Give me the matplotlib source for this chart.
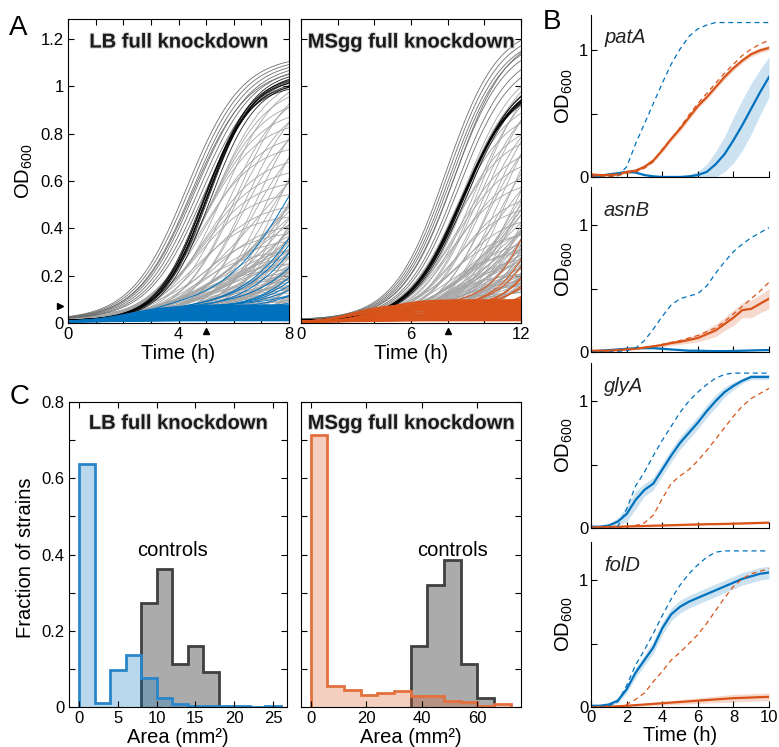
"""Knockdown growth curves (LB vs MSgg) and colony-area histograms."""

import matplotlib

matplotlib.use("Agg")
import matplotlib.patheffects as pe
import matplotlib.pyplot as plt
import numpy as np

plt.rcParams["font.family"] = ["Liberation Sans", "DejaVu Sans"]
plt.rcParams["mathtext.fontset"] = "custom"
plt.rcParams["mathtext.rm"] = "Liberation Sans"
plt.rcParams["mathtext.it"] = "Liberation Sans:italic"

BLUE = "#0072BD"
ORANGE = "#D95319"

# ---- Panel A: growth-curve parameters (plateau OD, midpoint h)
LB_CTRL_K = [1.02, 1.03, 1.04, 1.01, 1.05, 1.03, 1.00, 1.04, 1.06, 1.02]
LB_CTRL_TM = [5.0, 4.95, 5.05, 4.9, 5.1, 5.0, 4.85, 4.95, 5.05, 5.15]

# strains growing faster than the controls (darker lines)
LB_TOP_K = [1.12, 1.11, 1.10, 1.09, 1.08, 1.07, 1.06, 1.05]
LB_TOP_TM = [4.3, 4.4, 4.5, 4.6, 4.7, 4.5, 4.8, 4.9]
# fast-growing knockdowns (rate 1.0 / h)
LB_GRAY_K = [1.05, 1.0, 0.95, 1.05, 0.9, 1.0, 0.85, 1.05, 0.8, 0.95, 0.75, 1.0,
             0.7, 0.9, 0.65, 1.0, 0.6, 0.85, 0.55, 1.0, 0.5, 0.8, 0.45, 1.0,
             0.42, 0.7, 0.38, 1.0, 0.35, 0.6, 0.32, 0.9, 0.3, 0.55, 0.28, 1.0,
             0.25, 0.5, 0.22, 0.8, 0.2, 0.45, 0.18, 0.7, 0.16, 0.4, 0.14, 1.0,
             0.12, 0.35, 0.1, 0.6, 0.09, 0.3, 0.08, 0.8, 0.25, 0.5, 0.2, 0.9]
LB_GRAY_TM = [5.3, 5.2, 5.1, 5.6, 5.0, 5.8, 4.9, 6.1, 5.0, 6.0, 4.8, 6.4,
              5.0, 6.3, 4.9, 6.8, 4.8, 6.6, 4.7, 7.2, 4.9, 7.0, 4.6, 7.6,
              5.2, 7.2, 4.8, 8.0, 5.0, 7.4, 5.5, 8.2, 4.6, 7.6, 5.2, 8.6,
              5.0, 7.9, 4.5, 8.6, 5.3, 8.0, 4.8, 8.8, 5.6, 8.2, 4.6, 9.4,
              5.0, 8.5, 4.4, 9.2, 5.5, 8.8, 4.7, 9.6, 8.6, 9.4, 8.4, 10.0]
# slow-growing knockdowns (rate 0.6 / h)
LB_SLOW_K = [0.9, 0.8, 0.7, 0.6, 0.5, 0.45, 0.4, 0.35, 0.3, 0.28, 0.25, 0.22, 0.2,
             0.18, 0.15, 0.12, 0.6, 0.5, 0.4, 0.3, 1.0, 0.9, 0.8, 0.7, 1.0, 0.6,
             0.5, 0.4, 0.35, 0.3, 1.0, 0.8, 0.7, 0.25, 0.2, 0.55, 0.65, 0.75, 0.85, 0.95]
LB_SLOW_TM = [7.0, 7.5, 7.2, 6.8, 6.5, 7.0, 6.2, 6.0, 5.8, 6.5, 5.5, 6.0, 5.2,
              5.8, 5.0, 5.5, 8.0, 7.8, 7.5, 7.2, 8.5, 8.8, 8.2, 8.6, 9.5, 9.0,
              8.6, 8.4, 8.0, 8.5, 10.0, 9.8, 9.3, 7.0, 6.8, 7.3, 7.8, 8.0, 7.6, 7.9]

LB_KD_K = [0.070, 0.068, 0.066, 0.064, 0.062, 0.060, 0.058, 0.056, 0.054,
           0.052, 0.050, 0.048, 0.046, 0.044, 0.042, 0.040, 0.038, 0.036,
           0.034, 0.032, 0.030, 0.028, 0.026, 0.024, 0.022, 0.020, 0.018,
           0.016, 0.014, 0.012, 0.010, 0.008, 0.006, 0.004]
LB_KD_TM = [2.6, 3.0, 2.2, 3.4, 2.8, 2.4, 3.2, 2.0, 2.7, 3.6, 2.3, 2.9,
            3.1, 2.5, 1.9, 3.3, 2.6, 2.1, 3.5, 2.8, 2.4, 3.0, 2.2, 2.7,
            3.2, 1.8, 2.5, 2.9, 2.3, 3.1, 2.0, 2.6, 2.4, 2.8]
LB_RISE_K1 = [0.06, 0.05, 0.055, 0.045, 0.06, 0.04, 0.05, 0.055, 0.06, 0.05, 0.065, 0.045]
LB_RISE_TM = [8.15, 9.05, 9.25, 9.4, 10.0, 10.2, 10.5, 10.8, 11.2, 11.5, 11.8, 12.2]

MS_CTRL_K = [1.03, 1.02, 1.05, 1.01, 1.04, 1.03, 1.00, 1.06, 1.02, 1.04]
MS_CTRL_TM = [8.8, 8.75, 8.85, 8.7, 8.9, 8.8, 8.65, 8.95, 8.8, 9.0]

MS_TOP_K = [1.25, 1.23, 1.21, 1.2, 1.18, 1.22, 1.15, 1.12]
MS_TOP_TM = [7.9, 8.0, 8.1, 8.2, 8.3, 8.4, 8.5, 8.6]
MS_GRAY_K = [1.1, 1.05, 1.0, 1.1, 0.95, 1.05, 0.9, 1.1, 0.85, 1.0, 0.8, 1.05,
             0.75, 0.95, 0.7, 1.0, 0.65, 0.9, 0.6, 1.0, 0.55, 0.85, 0.5, 1.0,
             0.45, 0.75, 0.4, 0.9, 0.38, 0.7, 0.35, 1.0, 0.32, 0.6, 0.3, 0.9,
             0.28, 0.55, 0.25, 0.8, 0.22, 0.5, 0.2, 1.0, 0.18, 0.45, 0.15, 0.7,
             0.13, 0.4, 0.12, 0.9, 0.35, 0.6, 0.3, 0.8]
MS_GRAY_TM = [8.9, 8.8, 8.6, 9.2, 8.5, 9.4, 8.4, 9.7, 8.5, 9.6, 8.3, 10.0,
              8.5, 9.9, 8.4, 10.4, 8.5, 10.2, 8.2, 10.8, 8.6, 10.6, 8.3, 11.2,
              8.5, 10.9, 8.8, 11.4, 8.0, 11.0, 8.6, 12.0, 8.4, 11.3, 7.8, 12.3,
              8.6, 11.6, 8.2, 12.4, 9.0, 11.8, 7.6, 13.2, 8.4, 12.0, 7.5, 13.0,
              8.8, 12.3, 7.2, 13.8, 12.5, 13.4, 12.2, 14.0]
MS_SLOW_K = [0.9, 0.8, 0.7, 0.6, 0.5, 0.45, 0.4, 0.35, 0.3, 0.28, 0.25, 0.22, 0.2,
             0.18, 0.15, 0.12, 0.6, 0.5, 0.4, 0.3, 1.0, 0.9, 0.8, 0.7, 1.0, 0.6,
             0.5, 0.4, 0.35, 0.3, 1.0, 0.8, 0.7, 0.25, 0.2, 0.55, 0.65, 0.75, 0.85, 0.95]
MS_SLOW_TM = [11.0, 11.5, 11.2, 10.8, 10.5, 11.0, 10.2, 10.0, 9.8, 10.5, 9.5, 10.0,
              9.2, 9.8, 9.0, 9.5, 12.0, 11.8, 11.5, 11.2, 12.5, 12.8, 12.2, 12.6,
              13.5, 13.0, 12.6, 12.4, 12.0, 12.5, 14.0, 13.8, 13.3, 11.0, 10.8,
              11.3, 11.8, 12.0, 11.6, 11.9]

MS_KD_K = [0.092, 0.088, 0.085, 0.082, 0.079, 0.076, 0.073, 0.070, 0.067,
           0.064, 0.061, 0.058, 0.055, 0.052, 0.049, 0.046, 0.043, 0.040,
           0.037, 0.034, 0.031, 0.028, 0.025, 0.022, 0.019, 0.016, 0.013,
           0.010, 0.007, 0.004]
MS_KD_TM = [4.4, 4.8, 4.0, 5.2, 4.6, 4.2, 5.0, 3.8, 4.5, 5.4, 4.1, 4.7,
            4.9, 4.3, 3.7, 5.1, 4.4, 3.9, 5.3, 4.6, 4.2, 4.8, 4.0, 4.5,
            5.0, 3.6, 4.3, 4.7, 4.1, 4.9]
MS_RISE_K1 = [0.07, 0.06, 0.065, 0.05, 0.06, 0.055, 0.07, 0.05, 0.06, 0.065]
MS_RISE_TM = [13.2, 13.7, 14.0, 14.3, 14.5, 14.8, 15.2, 15.5, 15.9, 16.3]

# ---- Panel B: mean OD600 over time for four knockdowns
T_B = np.arange(0, 10.01, 0.5)

PATA_LB_KD = [0.01, 0.01, 0.02, 0.03, 0.04, 0.035, 0.015, 0.005, 0, 0, 0, 0.005, 0.015,
              0.04, 0.1, 0.18, 0.29, 0.41, 0.54, 0.67, 0.79]
PATA_LB_ERR = [0, 0, 0, 0, 0, 0, 0, 0, 0, 0, 0, 0.01, 0.03, 0.06, 0.1, 0.14, 0.18,
               0.2, 0.2, 0.18, 0.16]
PATA_LB_REF = [0, 0, 0, 0.01, 0.08, 0.26, 0.42, 0.58, 0.74, 0.89, 1.01, 1.11, 1.17,
               1.20, 1.22, 1.22, 1.22, 1.22, 1.22, 1.22, 1.22]
PATA_MS_KD = [0.02, 0.015, 0.015, 0.02, 0.04, 0.05, 0.08, 0.13, 0.21, 0.30, 0.38, 0.47,
              0.56, 0.63, 0.71, 0.79, 0.86, 0.92, 0.97, 1.0, 1.02]
PATA_MS_ERR = [0.01, 0.01, 0.01, 0.01, 0.01, 0.01, 0.015, 0.015, 0.015, 0.02, 0.02, 0.02,
               0.02, 0.02, 0.02, 0.02, 0.02, 0.02, 0.02, 0.02, 0.02]
PATA_MS_REF = [0, 0, 0, 0.01, 0.03, 0.04, 0.07, 0.12, 0.22, 0.3, 0.39, 0.49, 0.58, 0.66,
               0.74, 0.82, 0.89, 0.96, 1.01, 1.05, 1.08]

ASNB_LB_KD = [0.005, 0.01, 0.015, 0.02, 0.025, 0.03, 0.03, 0.03, 0.025, 0.02, 0.015,
              0.01, 0.01, 0.008, 0.007, 0.007, 0.008, 0.01, 0.012, 0.014, 0.015]
ASNB_LB_ERR = [0.003] * 21
ASNB_LB_REF = [0, 0, 0, 0.005, 0.01, 0.03, 0.09, 0.18, 0.28, 0.37, 0.42, 0.44, 0.46,
               0.52, 0.62, 0.71, 0.79, 0.85, 0.9, 0.94, 0.98]
ASNB_MS_KD = [0.01, 0.01, 0.01, 0.015, 0.02, 0.025, 0.035, 0.045, 0.055, 0.07, 0.08,
              0.095, 0.11, 0.14, 0.17, 0.22, 0.27, 0.33, 0.34, 0.38, 0.42]
ASNB_MS_ERR = [0, 0, 0, 0, 0.005, 0.005, 0.01, 0.01, 0.015, 0.02, 0.02, 0.025, 0.03,
               0.04, 0.05, 0.05, 0.06, 0.06, 0.07, 0.07, 0.08]
ASNB_MS_REF = [0.01, 0.01, 0.01, 0.015, 0.02, 0.025, 0.035, 0.045, 0.06, 0.075, 0.09,
               0.11, 0.13, 0.16, 0.19, 0.24, 0.3, 0.36, 0.42, 0.48, 0.55]

GLYA_LB_KD = [0.01, 0.01, 0.02, 0.05, 0.11, 0.22, 0.3, 0.35, 0.46, 0.57, 0.67, 0.75,
              0.83, 0.92, 1.0, 1.07, 1.12, 1.16, 1.19, 1.19, 1.19]
GLYA_LB_ERR = [0, 0, 0.01, 0.03, 0.06, 0.07, 0.05, 0.05, 0.05, 0.05, 0.05, 0.05, 0.05,
               0.05, 0.05, 0.04, 0.03, 0.02, 0.02, 0.02, 0.02]
GLYA_LB_REF = [0, 0, 0, 0.01, 0.15, 0.33, 0.44, 0.57, 0.69, 0.8, 0.91, 1.0, 1.07, 1.13,
               1.18, 1.21, 1.22, 1.22, 1.22, 1.22, 1.22]
GLYA_MS_KD = [0.005, 0.005, 0.008, 0.01, 0.012, 0.014, 0.016, 0.018, 0.02, 0.022, 0.024,
              0.026, 0.028, 0.03, 0.031, 0.032, 0.034, 0.036, 0.038, 0.04, 0.042]
GLYA_MS_ERR = [0.008] * 21
GLYA_MS_REF = [0, 0, 0, 0.005, 0.01, 0.02, 0.04, 0.1, 0.23, 0.35, 0.41, 0.46, 0.53,
               0.61, 0.7, 0.79, 0.88, 0.96, 1.02, 1.06, 1.1]

FOLD_LB_KD = [0.01, 0.01, 0.02, 0.05, 0.14, 0.27, 0.37, 0.47, 0.62, 0.73, 0.79, 0.83,
              0.86, 0.89, 0.92, 0.95, 0.98, 1.01, 1.03, 1.05, 1.06]
FOLD_LB_ERR = [0, 0, 0.01, 0.02, 0.03, 0.04, 0.04, 0.05, 0.05, 0.05, 0.05, 0.05, 0.05,
               0.05, 0.05, 0.05, 0.05, 0.05, 0.05, 0.05, 0.05]
FOLD_LB_REF = [0, 0, 0.01, 0.04, 0.17, 0.33, 0.45, 0.58, 0.72, 0.85, 0.96, 1.05, 1.12,
               1.18, 1.22, 1.23, 1.23, 1.23, 1.23, 1.23, 1.23]
FOLD_MS_KD = [0.0, 0.0, 0.003, 0.006, 0.01, 0.015, 0.02, 0.025, 0.03, 0.035, 0.04, 0.045,
              0.05, 0.055, 0.06, 0.065, 0.07, 0.072, 0.075, 0.078, 0.08]
FOLD_MS_ERR = [0, 0, 0, 0.002, 0.005, 0.008, 0.01, 0.012, 0.014, 0.016, 0.018, 0.02,
               0.022, 0.024, 0.026, 0.028, 0.03, 0.03, 0.03, 0.03, 0.03]
FOLD_MS_REF = [0, 0, 0, 0.005, 0.02, 0.06, 0.11, 0.2, 0.28, 0.37, 0.43, 0.5, 0.57, 0.66,
               0.76, 0.86, 0.95, 1.01, 1.05, 1.07, 1.09]

GENES = [
    ("patA", PATA_LB_KD, PATA_LB_ERR, PATA_LB_REF, PATA_MS_KD, PATA_MS_ERR, PATA_MS_REF),
    ("asnB", ASNB_LB_KD, ASNB_LB_ERR, ASNB_LB_REF, ASNB_MS_KD, ASNB_MS_ERR, ASNB_MS_REF),
    ("glyA", GLYA_LB_KD, GLYA_LB_ERR, GLYA_LB_REF, GLYA_MS_KD, GLYA_MS_ERR, GLYA_MS_REF),
    ("folD", FOLD_LB_KD, FOLD_LB_ERR, FOLD_LB_REF, FOLD_MS_KD, FOLD_MS_ERR, FOLD_MS_REF),
]

# ---- Panel C: colony area histograms (fraction of strains)
LB_KD_EDGES = [0, 2, 4, 6, 8, 10, 12, 14, 16, 18, 20, 22, 24, 26]
LB_KD_FRAC = [0.638, 0.010, 0.096, 0.137, 0.076, 0.024, 0.008, 0.002, 0.004, 0.004,
              0.002, 0.0, 0.004]
LB_CTRL_EDGES = [8, 10, 12, 14, 16, 18]
LB_CTRL_FRAC = [0.273, 0.363, 0.114, 0.161, 0.091]
MS_KD_EDGES = [0, 6, 12, 18, 24, 30, 36, 42, 48, 54, 60, 66, 72]
MS_KD_FRAC = [0.713, 0.054, 0.044, 0.031, 0.038, 0.041, 0.028, 0.028, 0.017, 0.012,
              0.002, 0.008]
MS_CTRL_EDGES = [36, 42, 48, 54, 60, 66]
MS_CTRL_FRAC = [0.161, 0.319, 0.386, 0.114, 0.025]

TICK_FS = 12
LABEL_FS = 14.5
TITLE_FS = 14.5
GRAY = "#a5a5a5"


def logistic(t, k, tm, rate):
    return k / (1 + np.exp(-rate * (t - tm)))


def style_box(ax):
    for s in ax.spines.values():
        s.set_linewidth(0.8)
    ax.tick_params(direction="in", top=True, right=True, length=4, width=0.8,
                   labelsize=TICK_FS, pad=3)


def add_title(ax, text, y):
    ax.text(0.5, y, text, transform=ax.transAxes, ha="center", va="center",
            fontsize=TITLE_FS, fontweight="bold", color="#1a1a1a",
            path_effects=[pe.withStroke(linewidth=1.5, foreground="#d8d8d8")])


def draw_curves(ax, t, top, gray, slow, ctrl, kd, rise, color):
    """Each group is (plateau list, midpoint list, rate)."""
    for k, tm in zip(slow[0], slow[1]):
        ax.plot(t, 0.012 + logistic(t, k, tm, slow[2]), color=GRAY, lw=0.6)
    for k, tm in zip(gray[0], gray[1]):
        ax.plot(t, 0.012 + logistic(t, k, tm, gray[2]), color=GRAY, lw=0.6)
    for k, tm in zip(top[0], top[1]):
        ax.plot(t, 0.012 + logistic(t, k, tm, top[2]), color="#6e6e6e", lw=0.6)
    for k, tm in zip(ctrl[0], ctrl[1]):
        ax.plot(t, 0.01 + logistic(t, k, tm, ctrl[2]), color="k", lw=0.6, alpha=0.85)
    for k, tm in zip(kd[0], kd[1]):
        ax.plot(t, 0.006 + logistic(t, k, tm, kd[2]), color=color, lw=1.0)
    for k1, tm in zip(rise[0], rise[1]):
        ax.plot(t, 0.006 + logistic(t, k1, 2.8, kd[2]) + logistic(t, 1.0, tm, rise[2]),
                color=color, lw=0.7)


fig = plt.figure(figsize=(7.79, 7.47), dpi=100)

# ---------------- Panel A ----------------
ax_a1 = fig.add_axes([0.0873, 0.5676, 0.2837, 0.407])
ax_a2 = fig.add_axes([0.3864, 0.5676, 0.2824, 0.407])

t_lb = np.linspace(0, 8, 200)
draw_curves(ax_a1, t_lb, (LB_TOP_K, LB_TOP_TM, 1.0), (LB_GRAY_K, LB_GRAY_TM, 1.0),
            (LB_SLOW_K, LB_SLOW_TM, 0.6), (LB_CTRL_K, LB_CTRL_TM, 1.2),
            (LB_KD_K, LB_KD_TM, 1.5), (LB_RISE_K1, LB_RISE_TM, 0.8), BLUE)
t_ms = np.linspace(0, 12, 240)
draw_curves(ax_a2, t_ms, (MS_TOP_K, MS_TOP_TM, 0.7), (MS_GRAY_K, MS_GRAY_TM, 0.7),
            (MS_SLOW_K, MS_SLOW_TM, 0.45), (MS_CTRL_K, MS_CTRL_TM, 0.7),
            (MS_KD_K, MS_KD_TM, 1.2), (MS_RISE_K1, MS_RISE_TM, 0.8), ORANGE)

for ax in (ax_a1, ax_a2):
    style_box(ax)
    ax.set_ylim(0, 1.285)
    ax.set_yticks([0, 0.2, 0.4, 0.6, 0.8, 1.0, 1.2])
    ax.set_xlabel("Time (h)", fontsize=LABEL_FS, labelpad=1)
ax_a1.set_yticklabels(["0", "0.2", "0.4", "0.6", "0.8", "1", "1.2"])
ax_a2.set_yticklabels([])
ax_a1.set_xlim(0, 8)
ax_a1.set_xticks([0, 1, 2, 3, 4, 5, 6, 7, 8])
ax_a1.set_xticklabels(["0", "", "", "", "4", "", "", "", "8"])
ax_a2.set_xlim(0, 12)
ax_a2.set_xticks([0, 2, 4, 6, 8, 10, 12])
ax_a2.set_xticklabels(["0", "", "", "6", "", "", "12"])
add_title(ax_a1, "LB full knockdown", 0.924)
add_title(ax_a2, "MSgg full knockdown", 0.924)

# arrowhead markers
ax_a1.plot([5.0], [-0.034], marker="^", color="k", ms=5, clip_on=False)
ax_a1.plot([-0.29], [0.072], marker=">", color="k", ms=5, clip_on=False)
ax_a2.plot([8.0], [-0.034], marker="^", color="k", ms=5, clip_on=False)

fig.text(0.031, 0.77, "OD$_{600}$", rotation=90, ha="center", va="center",
         fontsize=LABEL_FS)

# ---------------- Panel C ----------------
ax_c1 = fig.add_axes([0.0886, 0.0535, 0.2798, 0.4083])
ax_c2 = fig.add_axes([0.3864, 0.0535, 0.2824, 0.4083])

ax_c1.stairs(LB_CTRL_FRAC, LB_CTRL_EDGES, fill=True, color="#7f7f7f", alpha=0.65, lw=0)
ax_c1.stairs(LB_CTRL_FRAC, LB_CTRL_EDGES, color="#404040", lw=2)
ax_c1.stairs(LB_KD_FRAC, LB_KD_EDGES, fill=True, color=BLUE, alpha=0.27, lw=0)
ax_c1.stairs(LB_KD_FRAC, LB_KD_EDGES, color="#2a86c8", lw=2)

ax_c2.stairs(MS_CTRL_FRAC, MS_CTRL_EDGES, fill=True, color="#7f7f7f", alpha=0.65, lw=0)
ax_c2.stairs(MS_CTRL_FRAC, MS_CTRL_EDGES, color="#404040", lw=2)
ax_c2.stairs(MS_KD_FRAC, MS_KD_EDGES, fill=True, color=ORANGE, alpha=0.28, lw=0)
ax_c2.stairs(MS_KD_FRAC, MS_KD_EDGES, color="#e3703f", lw=2)

for ax in (ax_c1, ax_c2):
    style_box(ax)
    ax.set_ylim(0, 0.8)
    ax.set_yticks([0, 0.1, 0.2, 0.3, 0.4, 0.5, 0.6, 0.7, 0.8])
    ax.set_xlabel("Area (mm²)", fontsize=LABEL_FS, labelpad=1)
ax_c1.set_yticklabels(["0", "", "0.2", "", "0.4", "", "0.6", "", "0.8"])
ax_c2.set_yticklabels([])
ax_c1.set_xlim(-1.3, 26.8)
ax_c1.set_xticks([0, 5, 10, 15, 20, 25])
ax_c2.set_xlim(-3.5, 75.7)
ax_c2.set_xticks([0, 20, 40, 60])
add_title(ax_c1, "LB full knockdown", 0.93)
add_title(ax_c2, "MSgg full knockdown", 0.93)
ax_c1.text(12.0, 0.41, "controls", ha="center", va="center", fontsize=LABEL_FS)
ax_c2.text(50.9, 0.41, "controls", ha="center", va="center", fontsize=LABEL_FS)

fig.text(0.033, 0.254, "Fraction of strains", rotation=90, ha="center", va="center",
         fontsize=LABEL_FS)

# ---------------- Panel B ----------------
b_rows = [(0.7631, 0.2169, 1.28), (0.5288, 0.2209, 1.3),
          (0.2932, 0.2209, 1.3), (0.0535, 0.2209, 1.3)]
for i, ((gene, lb_kd, lb_err, lb_ref, ms_kd, ms_err, ms_ref), (bottom, height, ytop)) in \
        enumerate(zip(GENES, b_rows)):
    ax = fig.add_axes([0.7587, bottom, 0.2285, height])
    lb_kd, lb_err = np.array(lb_kd), np.array(lb_err)
    ms_kd, ms_err = np.array(ms_kd), np.array(ms_err)
    ax.fill_between(T_B, lb_kd - lb_err, lb_kd + lb_err, color=BLUE, alpha=0.2, lw=0)
    ax.fill_between(T_B, ms_kd - ms_err, ms_kd + ms_err, color=ORANGE, alpha=0.22, lw=0)
    ax.plot(T_B, lb_kd, color=BLUE, lw=1.6)
    ax.plot(T_B, ms_kd, color=ORANGE, lw=1.6)
    ax.plot(T_B, lb_ref, color=BLUE, lw=0.9, ls=(0, (4, 3)))
    ax.plot(T_B, ms_ref, color=ORANGE, lw=0.9, ls=(0, (4, 3)))

    ax.set_xlim(0, 10)
    ax.set_ylim(0, ytop)
    for side in ("top", "right"):
        ax.spines[side].set_visible(False)
    for side in ("left", "bottom"):
        ax.spines[side].set_linewidth(0.8)
    ax.tick_params(direction="in", length=4, width=0.8, labelsize=TICK_FS, pad=2)
    ax.set_xticks([0, 2, 4, 6, 8, 10])
    ax.set_yticks([0, 0.5, 1])
    ax.set_yticklabels(["0", "", "1"])
    if i < 3:
        ax.set_xticklabels([])
    else:
        ax.set_xlabel("Time (h)", fontsize=LABEL_FS, labelpad=1)
    ax.text(0.073, 0.86, gene, transform=ax.transAxes, fontsize=14.5, style="italic",
            ha="left", va="center", color="#222222")
    fig.text(0.724, bottom + height * 0.5, "OD$_{600}$", rotation=90, ha="center",
             va="center", fontsize=LABEL_FS)

# panel letters
fig.text(0.012, 0.963, "A", fontsize=20, ha="left", va="center")
fig.text(0.697, 0.970, "B", fontsize=20, ha="left", va="center")
fig.text(0.012, 0.468, "C", fontsize=20, ha="left", va="center")

fig.savefig("out.png", dpi=100)
plt.close(fig)
